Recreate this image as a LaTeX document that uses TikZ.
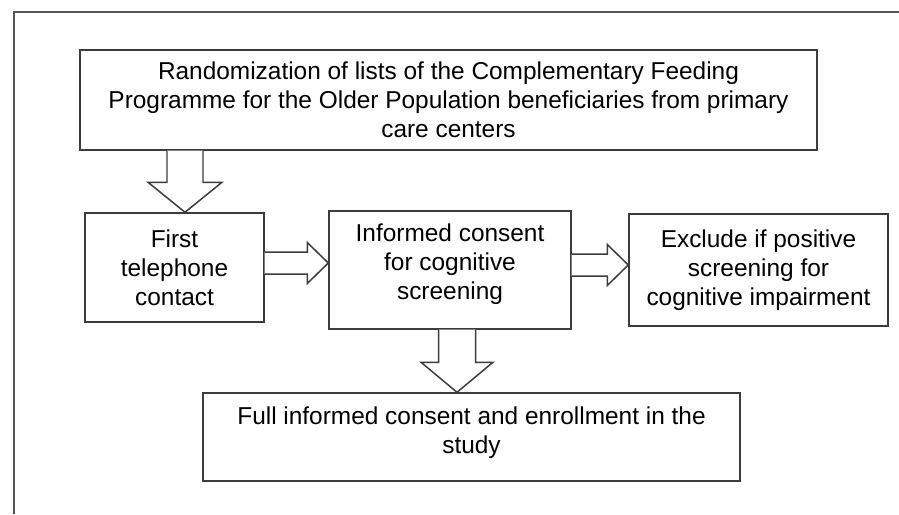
\documentclass[tikz,border=0pt]{standalone}
\usepackage{fontspec}
\setmainfont{Liberation Sans}
\usetikzlibrary{calc}
\definecolor{linegray}{HTML}{3C3C3C}
\definecolor{framegray}{HTML}{555555}
\tikzset{
	stepbox/.style={draw=linegray,line width=0.85pt,align=center,inner sep=0pt,font=\fontsize{13.9}{16.5}\selectfont},
	hollow/.style={draw=linegray,line width=0.85pt,fill=white,line join=miter}
}
\begin{document}
\begin{tikzpicture}[x=0.02cm,y=-0.02cm]
			\useasboundingbox (0,0) rectangle (899,514);
			\draw[framegray,line width=0.9pt] (14,514) -- (14,12) -- (899,12);
			
			\node[stepbox,minimum width=14.74cm,minimum height=2cm] (rand) at (448.5,100) {Randomization of lists of the Complementary Feeding\\Programme for the Older Population beneficiaries from primary\\care centers};
			\node[stepbox,minimum width=3.58cm,minimum height=2.18cm] (call) at (174.5,267.5) {First\\telephone\\contact};
			\node[stepbox,minimum width=4.84cm,minimum height=2.36cm,text depth=9pt] (consent) at (450,270) {Informed consent\\for cognitive\\screening};
			\node[stepbox,minimum width=5.18cm,minimum height=2.24cm] (exclude) at (758.5,270) {Exclude if positive\\screening for\\cognitive impairment};
			\node[stepbox,minimum width=10.74cm,minimum height=1.76cm,text depth=8pt] (enrol) at (471.5,437) {Full informed consent and enrollment in the\\study};
			
			\coordinate (d1t) at ($(call.north)+(10.5,0)$);
			\coordinate (d1s) at (rand.south -| d1t);
			\draw[hollow] ($(d1s)+(-18,0)$) -- ($(d1t)+(-18,-30)$) -- ($(d1t)+(-37,-30)$) -- (d1t) -- ($(d1t)+(37,-30)$) -- ($(d1t)+(18,-30)$) -- ($(d1s)+(18,0)$);
			
			\coordinate (r1s) at ($(call.east)+(0,-4.5)$);
			\coordinate (r1t) at (consent.west |- r1s);
			\draw[hollow] ($(r1s)+(0,-11)$) -- ($(r1t)+(-21,-11)$) -- ($(r1t)+(-21,-20.5)$) -- (r1t) -- ($(r1t)+(-21,20.5)$) -- ($(r1t)+(-21,11)$) -- ($(r1s)+(0,11)$);
			
			\coordinate (r2s) at ($(consent.east)+(0,-5)$);
			\coordinate (r2t) at (exclude.west |- r2s);
			\draw[hollow] ($(r2s)+(0,-11)$) -- ($(r2t)+(-21,-11)$) -- ($(r2t)+(-21,-20.5)$) -- (r2t) -- ($(r2t)+(-21,20.5)$) -- ($(r2t)+(-21,11)$) -- ($(r2s)+(0,11)$);
			
			\coordinate (d2s) at ($(consent.south)+(7,0)$);
			\coordinate (d2t) at (enrol.north -| d2s);
			\draw[hollow] ($(d2s)+(-18.5,0)$) -- ($(d2t)+(-18.5,-30)$) -- ($(d2t)+(-36,-30)$) -- (d2t) -- ($(d2t)+(36,-30)$) -- ($(d2t)+(18.5,-30)$) -- ($(d2s)+(18.5,0)$);
\end{tikzpicture}
\end{document}
